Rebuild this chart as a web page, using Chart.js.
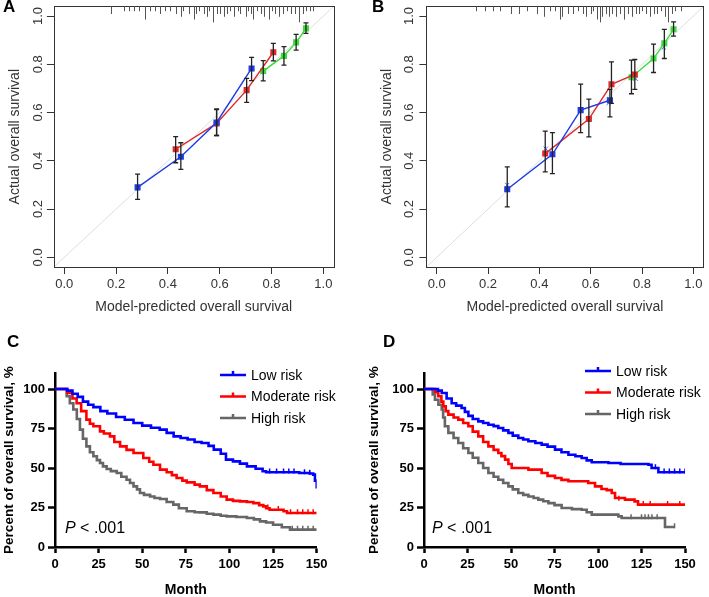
<!DOCTYPE html>
<html>
<head>
<meta charset="utf-8">
<script src="https://cdn.jsdelivr.net/npm/chart.js@4.4.0/dist/chart.umd.min.js"></script>
<style>
  html, body { margin: 0; padding: 0; background: #fff; overflow: hidden; width: 709px; height: 597px; }
  canvas { position: absolute; }
</style>
</head>
<body>
<canvas id="calA" width="354" height="320" style="left:0;top:0"></canvas>
<canvas id="calB" width="355" height="320" style="left:354px;top:0"></canvas>
<canvas id="kmC" width="354" height="280" style="left:0;top:320px"></canvas>
<canvas id="kmD" width="355" height="280" style="left:354px;top:320px"></canvas>
<script>
const FONT = '"Liberation Sans", Arial, Helvetica, sans-serif';

// ---------- calibration panels (A, B) ----------
const calTicks = [0, 0.2, 0.4, 0.6, 0.8, 1.0];
const calMin = -0.04, calMax = 1.04;

// panel A
const aBluePred  = [0.283, 0.45, 0.588, 0.723];
const aBlueObs   = [0.29, 0.417, 0.559, 0.783];
const aBlueLo    = [0.24, 0.365, 0.505, 0.732];
const aBlueHi    = [0.345, 0.475, 0.615, 0.829];
const aRedPred   = [0.43, 0.588, 0.704, 0.807];
const aRedObs    = [0.448, 0.555, 0.693, 0.85];
const aRedLo     = [0.392, 0.505, 0.642, 0.814];
const aRedHi     = [0.50, 0.612, 0.742, 0.887];
const aGreenPred = [0.768, 0.848, 0.895, 0.933];
const aGreenObs  = [0.772, 0.835, 0.891, 0.949];
const aGreenLo   = [0.731, 0.797, 0.859, 0.928];
const aGreenHi   = [0.815, 0.873, 0.924, 0.972];
const aRugX = [0.18, 0.23, 0.25, 0.27, 0.29, 0.31, 0.33, 0.35, 0.37, 0.39, 0.41, 0.43, 0.45, 0.46, 0.48, 0.50, 0.51, 0.52, 0.54, 0.55, 0.56, 0.575, 0.59, 0.60, 0.615, 0.63, 0.64, 0.655, 0.67, 0.68, 0.70, 0.71, 0.72, 0.73, 0.745, 0.76, 0.77, 0.79, 0.80, 0.815, 0.83, 0.845, 0.86, 0.875, 0.89, 0.905, 0.92, 0.935, 0.95, 0.96];
const aRugN = [2, 1, 1, 1, 1, 4, 1, 1, 2, 1, 1, 2, 3, 1, 2, 4, 2, 1, 2, 3, 1, 5, 2, 2, 3, 2, 1, 3, 1, 2, 3, 1, 2, 4, 1, 2, 3, 4, 1, 2, 3, 2, 1, 2, 2, 5, 2, 1, 1, 1];

// panel B
const bBluePred  = [0.275, 0.451, 0.561, 0.675];
const bBlueObs   = [0.282, 0.427, 0.61, 0.651];
const bBlueLo    = [0.209, 0.347, 0.517, 0.582];
const bBlueHi    = [0.375, 0.517, 0.718, 0.696];
const bRedPred   = [0.423, 0.593, 0.681, 0.772];
const bRedObs    = [0.43, 0.573, 0.717, 0.758];
const bRedLo     = [0.354, 0.499, 0.638, 0.696];
const bRedHi     = [0.523, 0.656, 0.81, 0.82];
const bGreenPred = [0.759, 0.845, 0.887, 0.923];
const bGreenObs  = [0.746, 0.824, 0.887, 0.945];
const bGreenLo   = [0.678, 0.766, 0.824, 0.917];
const bGreenHi   = [0.817, 0.884, 0.945, 0.976];
const bCorrX = [0.275, 0.425, 0.67, 0.775, 0.885];
const bCorrY = [0.30, 0.45, 0.64, 0.74, 0.87];
const bRugX = [0.155, 0.19, 0.22, 0.245, 0.29, 0.32, 0.35, 0.39, 0.42, 0.44, 0.46, 0.48, 0.49, 0.51, 0.53, 0.55, 0.57, 0.58, 0.60, 0.61, 0.625, 0.635, 0.645, 0.66, 0.67, 0.685, 0.70, 0.715, 0.73, 0.745, 0.76, 0.775, 0.79, 0.80, 0.815, 0.83, 0.845, 0.86, 0.875, 0.89, 0.90, 0.915, 0.93, 0.95];
const bRugN = [1, 1, 1, 1, 2, 2, 1, 2, 3, 1, 1, 4, 3, 2, 2, 1, 2, 3, 2, 1, 4, 5, 3, 2, 3, 2, 3, 2, 4, 2, 3, 2, 2, 1, 2, 3, 2, 2, 1, 3, 5, 2, 1, 1];

// ---------- Kaplan-Meier panels (C, D) ----------
const kmXTicks = [0, 25, 50, 75, 100, 125, 150];
const kmYTicks = [0, 25, 50, 75, 100];
const kmLabels = ['Low risk', 'Moderate risk', 'High risk'];

// panel C
const cLowMonth = [0, 5, 7, 10, 13, 16, 19, 22, 26, 30, 35, 40, 45, 50, 55, 60, 64, 68, 72, 76, 80, 84, 88, 91, 95, 98, 102, 106, 110, 115, 119, 121, 130, 140, 146, 148, 149, 150];
const cLowSurv  = [100, 100, 99, 97, 95, 92, 90, 88.5, 86, 84.5, 82.3, 80.5, 78.5, 76.8, 75.5, 74.3, 72.2, 70, 69, 68, 66.5, 65.8, 64, 61.6, 59, 55.3, 54.2, 52.8, 51, 49.5, 47.9, 47.3, 47.3, 46.8, 46.5, 45.8, 42, 37];
const cModMonth = [0, 5, 7, 10, 12.4, 15, 18, 20, 22, 25.8, 28, 31.5, 34, 37.3, 41, 45, 50.6, 54, 56.4, 60.2, 64, 67, 69.7, 73, 75.5, 80, 83, 87, 90.8, 95, 98.4, 102, 106, 110, 113.7, 117, 119.4, 121, 123, 131, 133, 150];
const cModSurv  = [100, 100, 97.5, 94, 91, 86, 80.6, 78, 76.4, 73.2, 71.8, 70, 66.5, 63.7, 61.5, 59.5, 56.3, 54, 52.1, 49, 47.3, 45.5, 43.7, 42, 40.9, 39.5, 38.4, 36, 34.2, 32, 30, 29.2, 28.9, 28.5, 27.8, 26.5, 25.7, 24.5, 23.6, 22.6, 21.5, 21.5];
const cHighMonth = [0, 4, 6.7, 8.5, 10.5, 12.5, 14.3, 16, 18, 20, 22, 24, 25.8, 27.5, 29.6, 32, 35.4, 38, 41, 43, 45, 47, 48.7, 51, 54.5, 57, 60.2, 64, 67.8, 71, 75.5, 80, 83, 87, 90.8, 95, 98.4, 104, 110, 114, 117.5, 121, 125, 130, 134.7, 150];
const cHighSurv  = [100, 100, 95.4, 91, 87, 81, 74.3, 68.5, 63.7, 60, 57.4, 55, 53.2, 51, 49.4, 48, 46.8, 44.5, 42.6, 40.5, 38.4, 36.5, 34.2, 33, 32, 31, 30.4, 28.5, 26.8, 24.5, 22.6, 22, 21.9, 21, 20.5, 19.8, 19.4, 19, 18.4, 17.5, 16.2, 15.5, 14.1, 12.5, 11, 11];
const cLowCens  = [[123, 47.3], [127, 47.3], [131, 47.3], [134, 47.3], [137, 47.3], [143, 46.8], [146, 46.5]];
const cModCens  = [[122, 24.5], [128, 23.6], [135, 21.5], [139, 21.5], [142, 21.5], [145, 21.5], [148, 21.5]];
const cHighCens = [[136, 11], [139, 11], [142, 11], [145, 11], [148, 11]];

// panel D
const dLowMonth = [0, 6.3, 8, 10.2, 13, 15.9, 18.5, 21.6, 23.5, 25.5, 28, 31.2, 34, 37, 40, 42.7, 45.5, 48.5, 51, 54.2, 57, 60, 64, 67.6, 71, 75.3, 79, 83, 87, 90.6, 93.5, 96.4, 106, 113, 129, 130.8, 134.7, 150];
const dLowSurv  = [100, 100, 99, 97.5, 94, 91, 89.5, 88, 85.5, 83, 81, 79.5, 78.5, 77.4, 76.5, 75.3, 73.8, 72.2, 70.5, 69, 68, 66.9, 65.8, 64.8, 63.5, 61.6, 60, 58.4, 57.4, 56.3, 54.8, 53.6, 53.2, 52.5, 52.1, 50, 47.3, 47.3];
const dModMonth = [0, 4.4, 6.5, 8.2, 10, 11.1, 12.5, 14, 17, 19.7, 22.5, 25.5, 28, 31.2, 34, 37, 40, 42.7, 44.5, 46.6, 48.5, 50.4, 60, 67.6, 71, 75.3, 79, 83, 94.4, 98.3, 102, 105, 107.9, 109.8, 115.5, 121, 123, 150];
const dModSurv  = [100, 100, 98, 95.4, 92, 89, 86, 83.8, 82, 80.6, 78.5, 76.4, 73, 70, 66.5, 63.7, 61.5, 59.5, 57.5, 55.3, 52.5, 50, 49, 46.8, 45, 43.7, 42.5, 41.6, 40.5, 38.4, 36.7, 36, 34.2, 31, 30, 28.9, 26.8, 26.8];
const dHighMonth = [0, 3.4, 5, 6.3, 8.3, 10.2, 11, 12, 14, 17, 19.7, 22.5, 25.5, 28, 31.2, 34, 37, 40, 42.7, 45.5, 48.5, 51, 54.2, 57, 60, 63, 65.7, 68.5, 71.5, 75, 79.1, 85, 90.6, 93.5, 96.4, 111.7, 113.6, 136.6, 138.5, 144];
const dHighSurv  = [100, 100, 96.5, 93.2, 90, 87, 82, 76.4, 72.2, 69, 65.8, 62.5, 59.5, 56.5, 53.2, 50, 46.8, 44.5, 42.6, 40.5, 38.4, 36.5, 34.2, 33, 32, 31, 30, 29, 27.8, 26.5, 24.7, 24, 23.6, 22, 20.5, 19.4, 18.4, 18.4, 12.7, 12.7];
const dLowCens  = [[133, 50], [138, 47.3], [141, 47.3], [144, 47.3], [147, 47.3], [150, 47.3]];
const dModCens  = [[112, 30], [126, 26.8], [130, 26.8], [140, 26.8], [147, 26.8]];
const dHighCens = [[119, 18.4], [125, 18.4], [127, 18.4], [129, 18.4], [131, 18.4], [134, 18.4], [144, 12.7]];

// ---------- drawing helpers ----------
const decor = {
  id: 'decor',
  afterDatasetsDraw(chart, args, o) {
    const { ctx, chartArea: ca, scales: { x, y } } = chart;
    ctx.save();
    if (o.box) {
      ctx.strokeStyle = '#333';
      ctx.lineWidth = 1;
      ctx.strokeRect(Math.round(ca.left) + 0.5, Math.round(ca.top) + 0.5, Math.round(ca.width), Math.round(ca.height));
    }
    // rug of predicted values hanging from the top of the box
    if (o.rugX) {
      ctx.strokeStyle = '#555';
      ctx.lineWidth = 1;
      ctx.beginPath();
      for (let i = 0; i < o.rugX.length; i++) {
        const px = Math.round(x.getPixelForValue(o.rugX[i])) + 0.5;
        ctx.moveTo(px, ca.top);
        ctx.lineTo(px, ca.top + 2 + o.rugN[i] * 2.8);
      }
      ctx.stroke();
    }
    // error bars
    ctx.strokeStyle = '#222';
    ctx.lineWidth = 1.3;
    chart.data.datasets.forEach(ds => {
      if (!ds.errLo) return;
      ds.data.forEach((p, i) => {
        const px = x.getPixelForValue(p.x);
        const lo = y.getPixelForValue(ds.errLo[i]);
        const hi = y.getPixelForValue(ds.errHi[i]);
        ctx.beginPath();
        ctx.moveTo(px, lo); ctx.lineTo(px, hi);
        ctx.moveTo(px - 2.5, lo); ctx.lineTo(px + 2.5, lo);
        ctx.moveTo(px - 2.5, hi); ctx.lineTo(px + 2.5, hi);
        ctx.stroke();
      });
    });
    // rotated y tick labels (R style)
    if (o.yLabelX !== undefined) {
      ctx.fillStyle = '#333';
      ctx.font = '13px ' + FONT;
      ctx.textAlign = 'center';
      ctx.textBaseline = 'middle';
      y.ticks.forEach(t => {
        ctx.save();
        ctx.translate(o.yLabelX, y.getPixelForValue(t.value));
        ctx.rotate(-Math.PI / 2);
        ctx.fillText(t.value.toFixed(1), 0, 0);
        ctx.restore();
      });
    }
    // legend
    if (o.legend) {
      const L = o.legend;
      ctx.font = '14px ' + FONT;
      ctx.textAlign = 'left';
      ctx.textBaseline = 'middle';
      L.colors.forEach((c, i) => {
        const yy = L.y + i * L.dy;
        ctx.strokeStyle = c;
        ctx.lineWidth = 2.5;
        ctx.beginPath();
        ctx.moveTo(L.x, yy); ctx.lineTo(L.x + L.len, yy);
        ctx.moveTo(L.x + L.len / 2, yy); ctx.lineTo(L.x + L.len / 2, yy - 4);
        ctx.stroke();
        ctx.fillStyle = '#000';
        ctx.fillText(kmLabels[i], L.x + L.len + 5, yy + 1);
      });
    }
    // free text (panel letters, P value)
    if (o.texts) {
      ctx.textBaseline = 'alphabetic';
      ctx.textAlign = 'left';
      ctx.fillStyle = '#000';
      o.texts.forEach(t => {
        let cx = t.x;
        t.runs.forEach(r => {
          ctx.font = r.f + ' ' + FONT;
          ctx.fillText(r.s, cx, t.y);
          cx += ctx.measureText(r.s).width;
        });
      });
    }
    ctx.restore();
  }
};

function calDataset(pred, obs, lo, hi, color) {
  return {
    data: pred.map((v, i) => ({ x: v, y: obs[i] })),
    showLine: true,
    borderColor: color,
    backgroundColor: color,
    borderWidth: 1.4,
    pointStyle: 'rect',
    pointRadius: 3.3,
    errLo: lo,
    errHi: hi
  };
}

function calChart(id, datasets, rugX, rugN, lay, letter) {
  datasets.push({
    data: [{ x: calMin, y: calMin }, { x: calMax, y: calMax }],
    showLine: true,
    borderColor: '#dedede',
    borderWidth: 1,
    pointRadius: 0
  });
  return new Chart(document.getElementById(id), {
    type: 'scatter',
    data: { datasets: datasets },
    options: {
      responsive: false,
      animation: false,
      layout: { padding: { top: lay.top, right: lay.right, bottom: 0, left: 0 } },
      plugins: {
        legend: { display: false },
        tooltip: { enabled: false },
        decor: {
          box: true, rugX: rugX, rugN: rugN, yLabelX: lay.yLabelX,
          texts: [{ x: lay.letterX, y: 12, runs: [{ f: 'bold 17px', s: letter }] }]
        }
      },
      scales: {
        x: {
          type: 'linear', min: calMin, max: calMax,
          afterBuildTicks: s => { s.ticks = calTicks.map(v => ({ value: v })); },
          afterFit: s => { s.height = lay.xHeight; },
          ticks: { color: '#333', font: { family: FONT, size: 13 }, padding: 3, maxRotation: 0, callback: v => v.toFixed(1) },
          grid: { drawOnChartArea: false, tickLength: 7, tickColor: '#333' },
          border: { display: false },
          title: { display: true, text: 'Model-predicted overall survival', color: '#333', font: { family: FONT, size: 14 }, padding: { top: 0, bottom: 4 } }
        },
        y: {
          type: 'linear', min: calMin, max: calMax,
          afterBuildTicks: s => { s.ticks = calTicks.map(v => ({ value: v })); },
          afterFit: s => { s.width = lay.yWidth; },
          ticks: { display: false },
          grid: { drawOnChartArea: false, tickLength: 7, tickColor: '#333' },
          border: { display: false },
          title: { display: true, text: 'Actual overall survival', color: '#333', font: { family: FONT, size: 14 }, padding: { top: lay.yTitlePad, bottom: 0 } }
        }
      }
    },
    plugins: [decor]
  });
}

const kmColors = ['#0000ff', '#ff0000', '#666666'];

function kmChart(id, curves, cens, lay, letter) {
  const datasets = [];
  curves.forEach((c, k) => {
    datasets.push({
      data: c[0].map((m, i) => ({ x: m, y: c[1][i] })),
      showLine: true,
      stepped: 'before',
      borderColor: kmColors[k],
      borderWidth: 2.6,
      pointRadius: 0
    });
  });
  cens.forEach((c, k) => {
    datasets.push({
      data: c.map(p => ({ x: p[0], y: p[1] + 0.8 })),
      showLine: false,
      pointStyle: 'line',
      rotation: 90,
      pointRadius: 2.5,
      borderWidth: 1.5,
      borderColor: kmColors[k]
    });
  });
  const bold = { family: FONT, size: 13, weight: 'bold' };
  return new Chart(document.getElementById(id), {
    type: 'scatter',
    data: { datasets: datasets },
    options: {
      responsive: false,
      animation: false,
      layout: { padding: { top: lay.top, right: lay.right, bottom: 0, left: 0 } },
      plugins: {
        legend: { display: false },
        tooltip: { enabled: false },
        decor: {
          legend: { x: lay.legX, y: lay.legY, dy: lay.legDy, len: 26, colors: kmColors },
          texts: [
            { x: lay.letterX, y: 27, runs: [{ f: 'bold 17px', s: letter }] },
            { x: lay.pX, y: 213, runs: [{ f: 'italic 16px', s: 'P' }, { f: '16px', s: ' < .001' }] }
          ]
        }
      },
      scales: {
        x: {
          type: 'linear', min: 0, max: 150,
          afterBuildTicks: s => { s.ticks = kmXTicks.map(v => ({ value: v })); },
          afterFit: s => { s.height = 53; },
          ticks: { color: '#000', font: bold, padding: 4, maxRotation: 0 },
          grid: { drawOnChartArea: false, tickLength: 6, tickColor: '#000', tickWidth: 2.5 },
          border: { display: true, color: '#000', width: 2.5 },
          title: { display: true, text: 'Month', color: '#000', font: { family: FONT, size: 14, weight: 'bold' }, padding: { top: 0, bottom: 1.5 } }
        },
        y: {
          type: 'linear', min: 0, max: 110,
          afterBuildTicks: s => { s.ticks = kmYTicks.map(v => ({ value: v })); },
          afterFit: s => { s.width = lay.yWidth; },
          ticks: { color: '#000', font: bold, padding: 3 },
          grid: { drawOnChartArea: false, tickLength: 7, tickColor: '#000', tickWidth: 2.5 },
          border: { display: true, color: '#000', width: 2.5 },
          title: { display: true, text: 'Percent of overall survival, %', color: '#000', font: { family: FONT, size: 13.5, weight: 'bold' }, padding: { top: lay.yTitlePad, bottom: 0 } }
        }
      }
    },
    plugins: [decor]
  });
}

calChart('calA', [
  calDataset(aBluePred, aBlueObs, aBlueLo, aBlueHi, '#1e3ce6'),
  calDataset(aRedPred, aRedObs, aRedLo, aRedHi, '#e02828'),
  calDataset(aGreenPred, aGreenObs, aGreenLo, aGreenHi, '#3ddc3d')
], aRugX, aRugN, { top: 6.4, right: 20.3, xHeight: 53, yWidth: 53.9, yTitlePad: 6.6, yLabelX: 38.5, letterX: 3 }, 'A');

const bSets = [
  calDataset(bBluePred, bBlueObs, bBlueLo, bBlueHi, '#1e3ce6'),
  calDataset(bRedPred, bRedObs, bRedLo, bRedHi, '#e02828'),
  calDataset(bGreenPred, bGreenObs, bGreenLo, bGreenHi, '#3ddc3d'),
  { data: bCorrX.map((v, i) => ({ x: v, y: bCorrY[i] })), pointStyle: 'crossRot', pointRadius: 3, borderWidth: 1, borderColor: '#4a5ee8', backgroundColor: '#4a5ee8' }
];
calChart('calB', bSets, bRugX, bRugN, { top: 6.4, right: 3.7, xHeight: 53, yWidth: 72.4, yTitlePad: 25, yLabelX: 55, letterX: 18 }, 'B');

kmChart('kmC', [[cLowMonth, cLowSurv], [cModMonth, cModSurv], [cHighMonth, cHighSurv]],
  [cLowCens, cModCens, cHighCens],
  { top: 53.2, right: 37.3, yWidth: 55, yTitlePad: 1, legX: 220, legY: 55, legDy: 21.5, letterX: 7, pX: 65 }, 'C');

kmChart('kmD', [[dLowMonth, dLowSurv], [dModMonth, dModSurv], [dHighMonth, dHighSurv]],
  [dLowCens, dModCens, dHighCens],
  { top: 53.2, right: 24, yWidth: 70, yTitlePad: 12, legX: 231, legY: 51, legDy: 21.5, letterX: 29, pX: 78 }, 'D');
</script>
</body>
</html>
